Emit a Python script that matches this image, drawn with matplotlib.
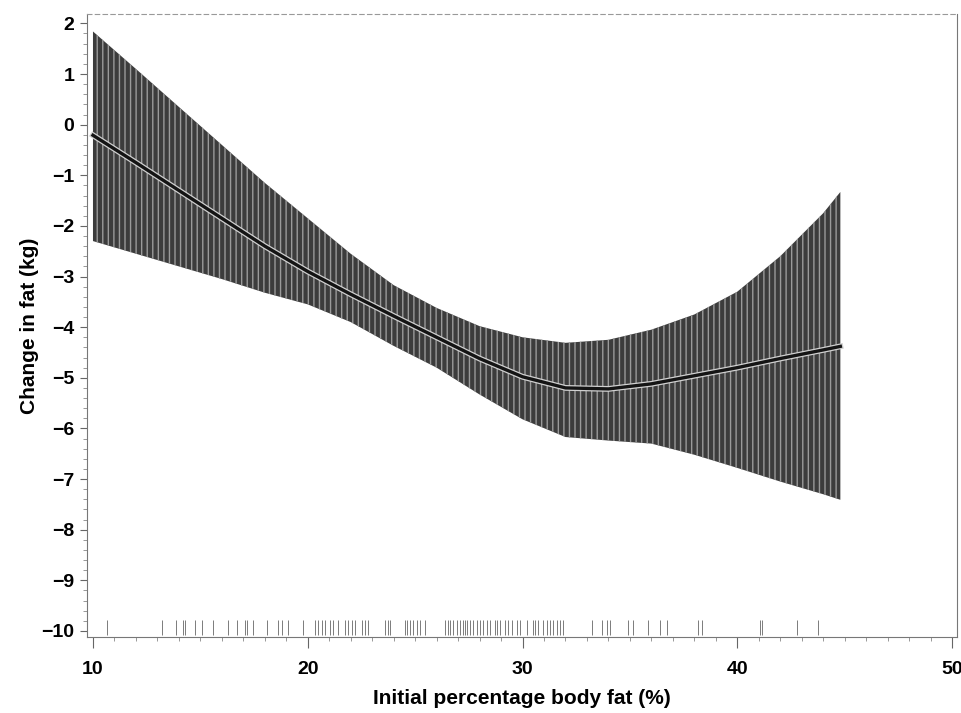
import numpy as np
import matplotlib
matplotlib.use('Agg')
import matplotlib.pyplot as plt
import matplotlib.patheffects as pe
from matplotlib.ticker import MultipleLocator

# x positions (initial % body fat) at which the curves were read
body_fat = [10, 12, 14, 16, 18, 20, 22, 24, 26, 28, 30, 32, 34, 36, 38, 40, 42, 44, 44.8]
fit = [-0.21, -0.75, -1.30, -1.85, -2.40, -2.90, -3.35, -3.78, -4.20, -4.62,
       -4.98, -5.20, -5.22, -5.12, -4.96, -4.80, -4.62, -4.45, -4.38]
upper = [1.84, 1.10, 0.35, -0.40, -1.15, -1.85, -2.55, -3.17, -3.62, -3.98,
         -4.20, -4.31, -4.25, -4.05, -3.75, -3.30, -2.60, -1.75, -1.33]
lower = [-2.30, -2.55, -2.80, -3.05, -3.32, -3.55, -3.90, -4.37, -4.80, -5.33,
         -5.82, -6.17, -6.24, -6.30, -6.52, -6.78, -7.05, -7.30, -7.41]

# observed values shown as a rug along the bottom
rug = [10.64, 13.23, 13.85, 14.21, 14.28, 14.75, 15.09, 15.6, 16.3, 16.69, 17.08,
       17.16, 17.47, 18.09, 18.63, 18.79, 19.1, 19.8, 20.34, 20.49, 20.65, 20.8,
       21.04, 21.19, 21.43, 21.74, 21.89, 22.05, 22.2, 22.51, 22.66, 22.82,
       23.6, 23.76, 23.83, 24.53, 24.61, 24.76, 24.92, 25.08, 25.23, 25.46,
       26.4, 26.55, 26.63, 26.78, 26.94, 27.09, 27.25, 27.33, 27.4, 27.56, 27.71,
       27.87, 28.02, 28.18, 28.33, 28.49, 28.72, 28.8, 28.96, 29.19, 29.34, 29.5,
       29.73, 29.89, 30.2, 30.51, 30.59, 30.74, 30.97, 31.13, 31.28, 31.44, 31.59,
       31.75, 31.9, 33.22, 33.69, 33.92, 34.07, 34.93, 35.16, 35.86, 36.41, 36.71,
       38.19, 38.35, 41.07, 41.15, 42.78, 43.78]

x_ticks = [10, 20, 30, 40, 50]
y_ticks = list(range(-10, 3))

plt.rcParams['font.family'] = ['Liberation Sans', 'DejaVu Sans']

fig = plt.figure(figsize=(9.61, 7.13), dpi=100)
ax = fig.add_axes([0.0905, 0.1066, 0.9053, 0.8734])

ax.fill_between(body_fat, lower, upper, facecolor='#3c3c3c', edgecolor='#9a9a9a',
                hatch='|||', linewidth=0)
ax.plot(body_fat, fit, color='#141414', lw=2.4,
        path_effects=[pe.Stroke(linewidth=4.2, foreground='#d0d0d0'), pe.Normal()])

ax.vlines(rug, -10.08, -9.78, color='#666666', lw=0.6)

ax.set_xlim(9.72, 50.23)
ax.set_ylim(-10.12, 2.18)
ax.set_xticks(x_ticks)
ax.set_yticks(y_ticks)
ax.xaxis.set_minor_locator(MultipleLocator(1))
ax.yaxis.set_minor_locator(MultipleLocator(0.2))

ax.tick_params(axis='both', which='major', labelsize=14, width=0.8, color='#666666')
ax.tick_params(axis='x', which='major', length=8, pad=9)
ax.tick_params(axis='y', which='major', length=5, pad=4)
ax.tick_params(axis='both', which='minor', length=3, width=0.6, color='#888888')
for lab in ax.get_xticklabels() + ax.get_yticklabels():
    lab.set_fontweight('bold')

for side in ['left', 'right', 'bottom']:
    ax.spines[side].set_color('#777777')
    ax.spines[side].set_linewidth(0.8)
ax.spines['top'].set_color('#999999')
ax.spines['top'].set_linestyle((0, (4, 3)))
ax.spines['top'].set_linewidth(0.8)

ax.set_xlabel('Initial percentage body fat (%)', fontsize=15, fontweight='bold', labelpad=8)
ax.set_ylabel('Change in fat (kg)', fontsize=15, fontweight='bold', labelpad=2)

fig.savefig('out.png', dpi=100)
